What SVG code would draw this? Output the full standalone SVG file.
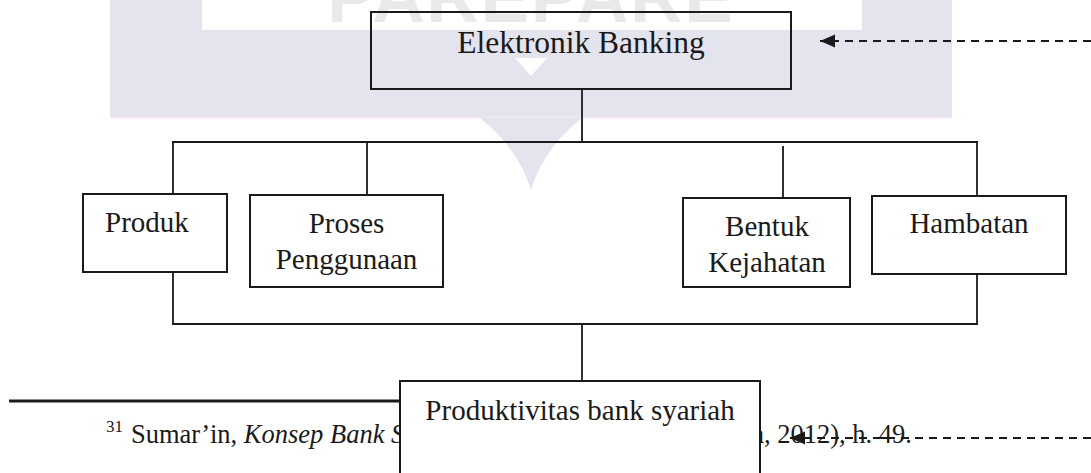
<svg xmlns="http://www.w3.org/2000/svg" width="1091" height="473" viewBox="0 0 1091 473">
  <style>
    .box { fill: #ffffff; stroke: #1a1a1a; stroke-width: 2; }
    .open { fill: none; }
    .ln { fill: none; stroke: #1a1a1a; stroke-width: 1.8; }
    .dash { fill: none; stroke: #1a1a1a; stroke-width: 2.2; stroke-dasharray: 8 6; }
    .t { font-family: "Liberation Serif", "Times New Roman", serif; font-size: 29px; fill: #1a1a1a; }
    .big { font-size: 31.5px; }
    .fn { font-family: "Liberation Serif", "Times New Roman", serif; font-size: 26.5px; fill: #1a1a1a; }
    .sup { font-size: 17px; }
    .wm { font-family: "Liberation Sans", Arial, sans-serif; font-weight: bold; font-size: 73px; fill: #e9e9e9; }
  </style>
  <defs>
    <marker id="arrow" markerUnits="userSpaceOnUse" markerWidth="16" markerHeight="14" refX="15" refY="6.5" orient="auto">
      <path d="M0,0 L15,6.5 L0,13 Z" fill="#1a1a1a"/>
    </marker>
  </defs>
  <rect width="1091" height="473" fill="#ffffff"/>

  <g id="watermark">
    <rect x="110" y="0" width="842" height="117" fill="#e4e4ee"/>
    <line x1="110" y1="117.5" x2="952" y2="117.5" stroke="#f6e4f6" stroke-width="1.5"/>
    <rect x="202" y="0" width="660" height="30" fill="#ffffff"/>
    <text class="wm" x="327" y="22" textLength="406">PAREPARE</text>
    <path d="M515 58 L547 58 L531 76 Z" fill="#ffffff"/>
    <path d="M480 118 C502 135 522 160 531 190 C540 160 560 135 582 118 Z" fill="#e4e4ee"/>
  </g>

  <g id="footnote">
    <line x1="9" y1="401" x2="400" y2="401" stroke="#1a1a1a" stroke-width="3.2"/>
    <text class="fn sup" x="106" y="432">31</text>
    <text class="fn" x="131" y="443">Sumar’in, <tspan font-style="italic">Konsep Bank Syariah</tspan></text>
    <text class="fn" x="912" y="443" text-anchor="end">gga, 2012), h. 49.</text>
  </g>

  <g id="connectors">
    <line class="ln" x1="582" y1="89" x2="582" y2="142"/>
    <line class="ln" x1="172" y1="142" x2="978" y2="142"/>
    <line class="ln" x1="173" y1="142" x2="173" y2="194"/>
    <line class="ln" x1="367" y1="142" x2="367" y2="195"/>
    <line class="ln" x1="783" y1="146" x2="783" y2="198"/>
    <line class="ln" x1="977" y1="142" x2="977" y2="196"/>
    <line class="ln" x1="173" y1="272" x2="173" y2="324"/>
    <line class="ln" x1="977" y1="274" x2="977" y2="324"/>
    <line class="ln" x1="172" y1="324" x2="978" y2="324"/>
    <line class="ln" x1="582" y1="324" x2="582" y2="381"/>
    <line class="dash" x1="1091" y1="41" x2="820" y2="41" marker-end="url(#arrow)"/>
  </g>

  <g id="node-elektronik">
    <rect class="box open" x="371" y="12" width="420" height="77"/>
    <text class="t big" x="581" y="53" text-anchor="middle">Elektronik Banking</text>
  </g>
  <g id="node-produk">
    <rect class="box" x="83" y="194" width="144" height="78"/>
    <text class="t" x="105" y="232">Produk</text>
  </g>
  <g id="node-proses">
    <rect class="box" x="250" y="195" width="193" height="92"/>
    <text class="t" x="346.5" y="233" text-anchor="middle">Proses</text>
    <text class="t" x="346.5" y="269" text-anchor="middle">Penggunaan</text>
  </g>
  <g id="node-bentuk">
    <rect class="box" x="683" y="198" width="167" height="89"/>
    <text class="t" x="767" y="236" text-anchor="middle">Bentuk</text>
    <text class="t" x="767" y="272" text-anchor="middle">Kejahatan</text>
  </g>
  <g id="node-hambatan">
    <rect class="box" x="872" y="196" width="194" height="78"/>
    <text class="t" x="969" y="233" text-anchor="middle">Hambatan</text>
  </g>
  <g id="node-produktivitas">
    <rect class="box" x="400" y="381" width="360" height="100"/>
    <text class="t" x="580" y="420" text-anchor="middle">Produktivitas bank syariah</text>
  </g>

  <g id="connector-bottom">
    <line class="dash" x1="1091" y1="438" x2="790" y2="438" marker-end="url(#arrow)"/>
  </g>
</svg>
